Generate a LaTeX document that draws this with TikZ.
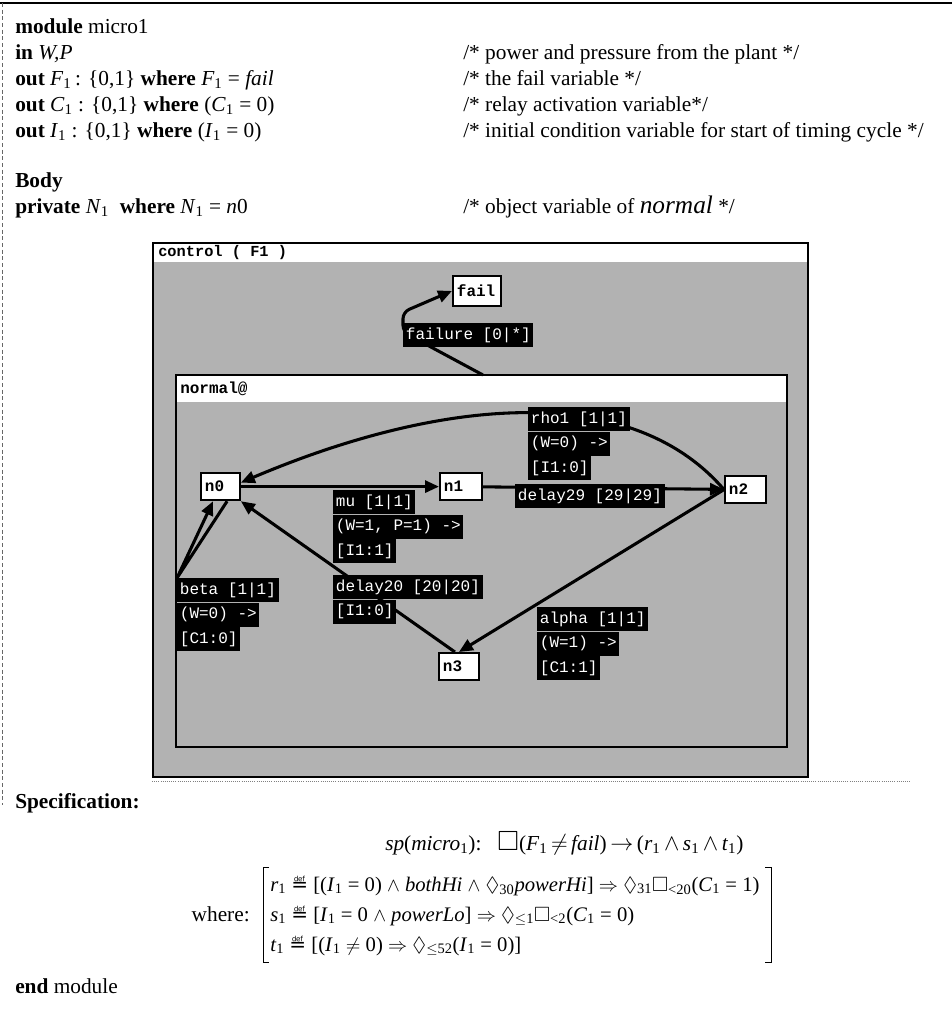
\documentclass[tikz,border=0pt]{standalone}
\usepackage{amssymb}
\usepackage{fontspec}
\setmainfont{Liberation Serif}
\newfontfamily\monofont{Liberation Mono}
\newfontfamily\symfont{DejaVu Sans}
\usetikzlibrary{arrows.meta,backgrounds}
\pgfdeclarelayer{edgelayer}
\pgfsetlayers{background,edgelayer,main}
\definecolor{winshade}{gray}{0.70}
\newcommand{\vs}[2]{\textit{#1}\textsubscript{#2}}
\newcommand{\defeq}{{\symfont\fontsize{15}{18}\selectfont ≝}}
\tikzset{
  txt/.style={anchor=base west, inner sep=0pt, font=\fontsize{16}{19}\selectfont},
  ftxt/.style={anchor=base west, inner sep=0pt, font=\fontsize{15.5}{18}\selectfont},
  lab/.style={anchor=north west, fill=black, text=white, inner xsep=2pt, inner ysep=0pt,
    minimum height=18pt, font=\monofont\fontsize{12}{14}\selectfont},
  stnode/.style={draw=black, line width=1.4pt, fill=white, inner xsep=3pt, inner ysep=0pt,
    minimum height=20.5pt, font=\monofont\bfseries\fontsize{12}{14}\selectfont, align=left,
    anchor=north west},
  tedge/.style={line width=2.3pt, -{Triangle[length=10.5pt,width=9pt]}},
  wintitle/.style={anchor=west, inner sep=0pt, font=\monofont\bfseries\fontsize{11.5}{13}\selectfont}
}
\begin{document}
\begin{tikzpicture}[x=0.75pt, y=-0.75pt]
\useasboundingbox (0,0) rectangle (952,1015);
% page frame
\draw[line width=1.2pt] (0,3) -- (952,3);
\draw[line width=0.6pt, black!60, densely dashed] (2,3) -- (2,805);
\draw[line width=0.6pt, black!50, densely dotted] (152,781) -- (911,781);

% header
\node[txt] (l1) at (15,33) {\textbf{module} micro1};
\node[txt] (l2) at (15,59) {\textbf{in} \textit{W,P}};
\node[txt] (l3) at (15,85) {\textbf{out} \vs{F}{1}\,: \{0,1\} \textbf{where} \vs{F}{1} = \textit{fail}};
\node[txt] (l4) at (15,111) {\textbf{out} \vs{C}{1} : \{0,1\} \textbf{where} (\vs{C}{1} = 0)};
\node[txt] (l5) at (15,137) {\textbf{out} \vs{I}{1} : \{0,1\} \textbf{where} (\vs{I}{1} = 0)};
\node[txt] (l6) at (15,187) {\textbf{Body}};
\node[txt] (l7) at (15,213) {\textbf{private} \vs{N}{1} \ \textbf{where} \vs{N}{1} = \textit{n}0};
\node[txt] (c2) at (463,59) {/* power and pressure from the plant */};
\node[txt] (c3) at (463,85) {/* the fail variable */};
\node[txt] (c4) at (463,111) {/* relay activation variable*/};
\node[txt] (c5) at (463,137) {/* initial condition variable for start of timing cycle */};
\node[txt] (c7) at (463,213) {/* object variable of {\fontsize{19}{20}\selectfont\textit{normal}} */};

% windows
\begin{scope}[on background layer]
\fill[winshade] (153,243) rectangle (808,777);
\fill[white] (153,243) rectangle (808,262);
\draw[line width=2.2pt] (153,243) rectangle (808,777);
\fill[winshade] (176,375) rectangle (787,747);
\fill[white] (176,375) rectangle (787,402);
\draw[line width=1.2pt] (176,375) rectangle (787,747);
\end{scope}
\node[wintitle] (ctitle) at (158,253) {control ( F1 )};
\node[wintitle, font=\monofont\bfseries\fontsize{12}{14}\selectfont] (ntitle) at (180,389) {normal@};
\coordinate (ntop) at (483,375);

% states
\node[stnode, text width=23.25pt] (n0) at (200,472) {n0};
\node[stnode, text width=25.5pt] (n1) at (439,472) {n1};
\node[stnode, text width=24.75pt] (n2) at (724,475) {n2};
\node[stnode, text width=24pt] (n3) at (438,652) {n3};
\node[stnode, text width=30pt, minimum height=22.5pt] (fail) at (452,275) {fail};

% labels
\node[lab] (fl) at (403,323) {failure [0|*]};
\node[lab] (rho1a) at (528,407) {rho1 [1|1]};
\node[lab] (rho1b) at (rho1a.south west) {(W=0) ->};
\node[lab] (rho1c) at (rho1b.south west) {[I1:0]};
\node[lab] (mua) at (333,490) {mu [1|1]};
\node[lab] (mub) at (mua.south west) {(W=1, P=1) ->};
\node[lab] (muc) at (mub.south west) {[I1:1]};
\node[lab] (d29) at (515,484) {delay29 [29|29]};
\node[lab] (betaa) at (177,578) {beta [1|1]};
\node[lab] (betab) at (betaa.south west) {(W=0) ->};
\node[lab] (betac) at (betab.south west) {[C1:0]};
\node[lab] (d20a) at (333,575) {delay20 [20|20]};
\node[lab] (d20b) at (d20a.south west) {[I1:0]};
\node[lab] (alphaa) at (537,607) {alpha [1|1]};
\node[lab] (alphab) at (alphaa.south west) {(W=1) ->};
\node[lab] (alphac) at (alphab.south west) {[C1:1]};

% edges
\begin{pgfonlayer}{edgelayer}
\draw[tedge] (n0) -- (n1);
\draw[tedge] (n1) -- (n2);
\draw[tedge] (n2.west) .. controls (630,380) and (440,398) .. ([yshift=3pt]n0.east);
\draw[tedge] (n2.west) -- (n3.north);
\draw[tedge] ([xshift=-3pt]n3.north) -- (n0.south east);
\draw[tedge] ([xshift=5pt]n0.south) -- (betaa.north west) -- ([xshift=-5.5pt]n0.south);
\draw[tedge, rounded corners=5pt] (ntop) -- (403,332) -- (403,312) -- (fail.west);
\end{pgfonlayer}

% specification
\node[txt] (spec) at (15,808) {\textbf{Specification:}};
\node[txt] (sp) at (385,850) {\textit{sp}(\textit{micro}\textsubscript{1}):\enspace\ \scalebox{1.3}{$\Box$}(\vs{F}{1}\,$\neq$\,\textit{fail})\,$\rightarrow$\,(\vs{r}{1}\,${\wedge}$\,\vs{s}{1}\,${\wedge}$\,\vs{t}{1})};
\node[ftxt] (r1) at (270,891) {\vs{r}{1} \defeq\ [(\vs{I}{1} = 0) $\wedge$ \textit{bothHi} $\wedge$ $\Diamond$\textsubscript{30}\textit{powerHi}] $\Rightarrow$ $\Diamond$\textsubscript{31}$\Box$\textsubscript{<20}(\vs{C}{1} = 1)};
\node[ftxt] (s1) at (270,921) {\vs{s}{1} \defeq\ [\vs{I}{1} = 0 $\wedge$ \textit{powerLo}] $\Rightarrow$ $\Diamond$\textsubscript{$\leq$1}$\Box$\textsubscript{<2}(\vs{C}{1} = 0)};
\node[ftxt] (t1) at (270,951) {\vs{t}{1} \defeq\ [(\vs{I}{1} $\neq$ 0) $\Rightarrow$ $\Diamond$\textsubscript{$\leq$52}(\vs{I}{1} = 0)]};
\node[txt, anchor=base east] (where) at (250,921) {where:};
\draw[line width=0.6pt] (269,867) -- (263,867) -- (263,962) -- (269,962);
\draw[line width=0.6pt] (765,867) -- (771,867) -- (771,962) -- (765,962);
\node[txt] (endm) at (15,993) {\textbf{end} module};
\end{tikzpicture}
\end{document}
